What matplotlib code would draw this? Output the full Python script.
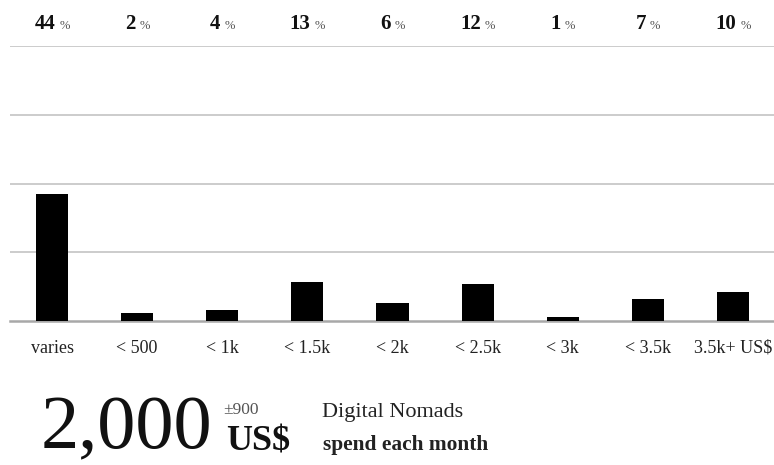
import matplotlib
matplotlib.use("Agg")
import matplotlib.pyplot as plt

plt.rcParams['font.family'] = ['Liberation Serif', 'DejaVu Serif']

# monthly budget brackets
categories = ['varies', '< 500', '< 1k', '< 1.5k', '< 2k', '< 2.5k', '< 3k', '< 3.5k', '3.5k+ US$']
# shares shown above the chart (rounded)
share_labels = [44, 2, 4, 13, 6, 12, 1, 7, 10]
# bar heights (unrounded share, %)
bar_values = [42.3, 2.6, 3.7, 13.1, 6.1, 12.2, 1.3, 7.4, 9.8]

W, H = 774, 465
fig = plt.figure(figsize=(W / 100, H / 100), dpi=100)
ax = fig.add_axes([9.5 / W, 1 - 321 / H, 766 / W, 275 / H])

ymax = 91.7
x = range(len(categories))
ax.bar(x, bar_values, width=0.376, color='black', zorder=3)
ax.set_xlim(-0.5, len(categories) - 0.5)
ax.set_ylim(0, ymax)
ax.set_yticks([ymax * k / 4 for k in range(1, 5)])
ax.yaxis.grid(True, color='#c4c4c4', linewidth=1.2)
ax.set_yticklabels([])
ax.tick_params(axis='y', length=0)
for s in ['top', 'right', 'left']:
    ax.spines[s].set_visible(False)
ax.spines['bottom'].set_color('#a8a8a8')
ax.spines['bottom'].set_linewidth(1.8)

ax.set_xticks(list(x))
ax.set_xticklabels(categories, fontsize=13, color='#222222')
ax.tick_params(axis='x', length=0, pad=13.5)

# percentage labels above the chart: bold number + small grey %
pairs = []
for i, v in enumerate(share_labels):
    t1 = ax.annotate(str(v), xy=(i, 1), xycoords=('data', 'axes fraction'),
                     xytext=(0, 17), textcoords='offset pixels',
                     ha='left', va='baseline', fontsize=15, fontweight='bold', color='#111111')
    t2 = ax.annotate('%', xy=(i, 1), xycoords=('data', 'axes fraction'),
                     xytext=(0, 17), textcoords='offset pixels',
                     ha='left', va='baseline', fontsize=9, color='#555555')
    pairs.append((t1, t2))

fig.canvas.draw()
r = fig.canvas.get_renderer()
for t1, t2 in pairs:
    w1 = t1.get_window_extent(r).width
    w2 = t2.get_window_extent(r).width
    gap = 4
    start = -(w1 + gap + w2) / 2
    t1.xyann = (start, 17)
    t2.xyann = (start + w1 + gap, 17)

# summary text at the bottom
def px(xp, yp):
    return xp / W, 1 - yp / H

fig.text(*px(41, 448), '2,000', fontsize=55, color='#111111', va='baseline')
fig.text(*px(223, 414), '±900', fontsize=12.5, color='#555555', va='baseline')
fig.text(*px(226, 450), 'US$', fontsize=26, fontweight='bold', color='#111111', va='baseline')
fig.text(*px(322, 417), 'Digital Nomads', fontsize=16, color='#222222', va='baseline')
fig.text(*px(323, 450), 'spend each month', fontsize=15.4, fontweight='bold', color='#222222', va='baseline')

fig.savefig('out.png', dpi=100)
